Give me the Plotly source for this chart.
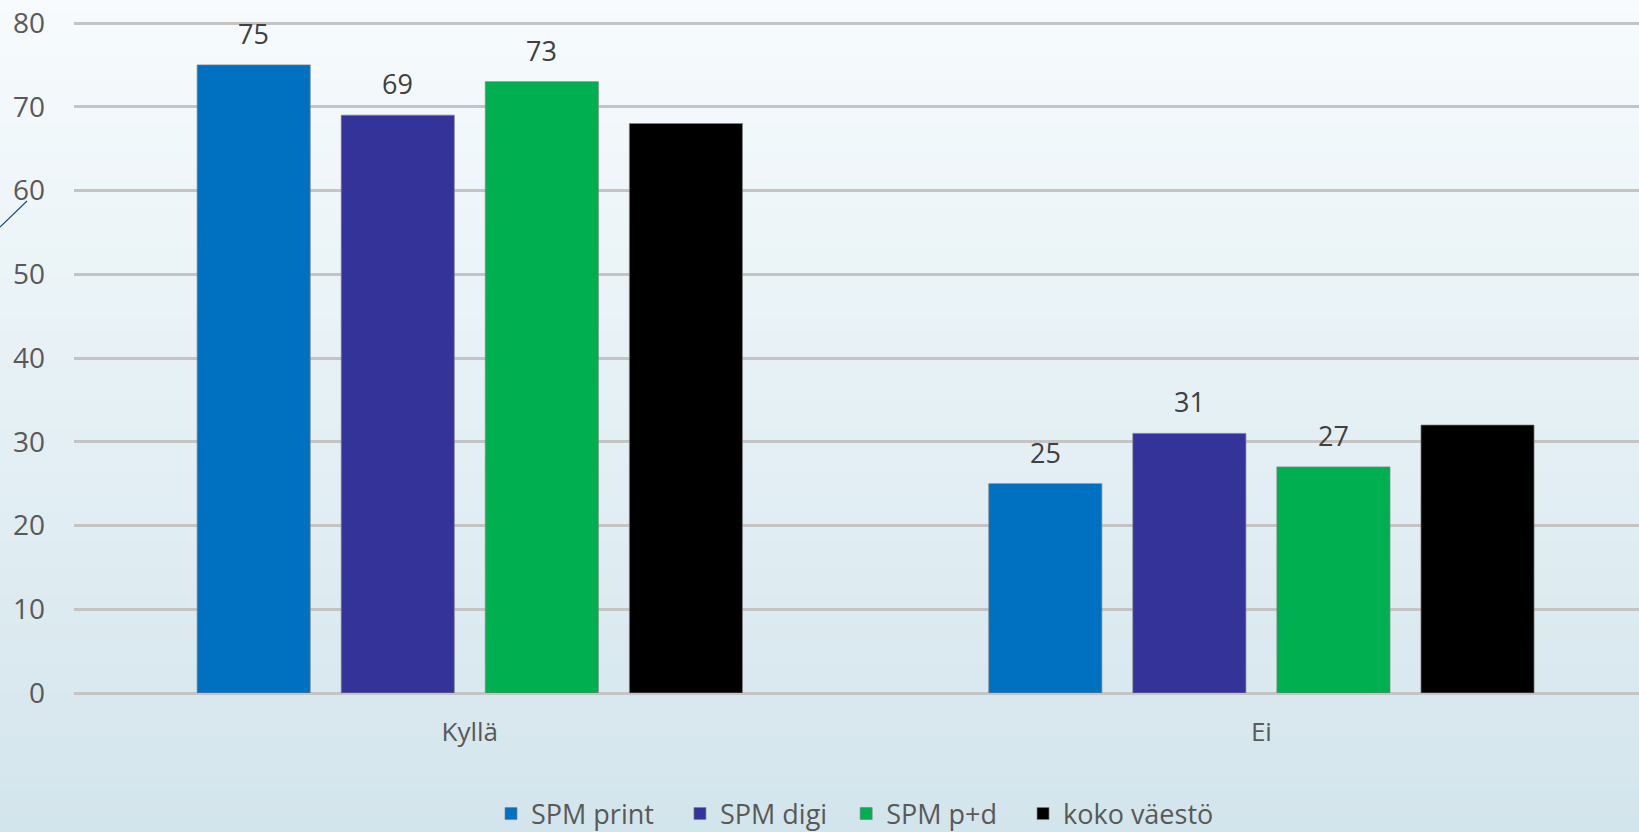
import plotly.graph_objects as go

categories = ["Kyllä", "Ei"]
series_names = ["SPM print", "SPM digi", "SPM p+d", "koko väestö"]
spm_print = [75, 25]
spm_digi = [69, 31]
spm_pd = [73, 27]
koko_vaesto = [68, 32]
show_labels = [True, True, True, False]
colors = ["#0070C0", "#333399", "#00B050", "#000000"]
y_ticks = [0, 10, 20, 30, 40, 50, 60, 70, 80]

series_values = [spm_print, spm_digi, spm_pd, koko_vaesto]

W, H = 1639, 832
ML, MR, MT, MB = 74, 0, 20, 139
Y_TOP = 80 * (H - MT - MB) / 670.0
BARGAP = 0.272
BARGROUPGAP = 0.215
LEGEND_PADS = [3, 2, 3, 0]  # non-breaking spaces after legend entries (spacing)

fig = go.Figure()
for name, vals, col, pad in zip(series_names, series_values, colors, LEGEND_PADS):
    fig.add_trace(go.Bar(
        x=categories, y=vals,
        name=name + "\u00a0" * pad,
        marker=dict(color=col, line=dict(color="rgba(130,130,130,0.7)", width=1)),
        hovertemplate="%{x}: %{y}<extra>" + name + "</extra>",
    ))

# value labels above bars (positioned from data and bar layout parameters)
annotations = []
n = len(series_values)
slot = (1 - BARGAP) / n
for i, (vals, show) in enumerate(zip(series_values, show_labels)):
    if not show:
        continue
    for j, v in enumerate(vals):
        annotations.append(dict(
            x=j + (i - (n - 1) / 2) * slot, y=v, xref="x", yref="y",
            text=str(v), showarrow=False, yanchor="bottom", yshift=11,
            font=dict(family="Open Sans", size=27, color="#404040"),
        ))

# vertical gradient background via stacked rectangles
shapes = []
top = (247, 251, 253)
bot = (211, 229, 236)
N = 60
pw = W - ML - MR
ph = H - MT - MB
y_lo = -MB / ph
y_hi = 1 + MT / ph
x_lo = -ML / pw
for k in range(N):
    t = (k + 0.5) / N
    c = tuple(round(top[m] + (bot[m] - top[m]) * t) for m in range(3))
    y1 = y_hi - (y_hi - y_lo) * k / N
    y0 = y_hi - (y_hi - y_lo) * (k + 1) / N
    if k == N - 1:
        y0 = y_lo - 0.05
    shapes.append(dict(type="rect", xref="paper", yref="paper",
                       x0=x_lo, x1=1.01, y0=y0 - 0.002, y1=y1 + 0.002,
                       fillcolor="rgb(%d,%d,%d)" % c, line=dict(width=0),
                       layer="below"))
# decorative diagonal line at left edge
shapes.append(dict(type="line", xref="paper", yref="paper",
                   x0=x_lo, y0=(H - MB - 227) / ph, x1=(27 - ML) / pw, y1=(H - MB - 201) / ph,
                   line=dict(color="#1F4E79", width=1.2), layer="above"))

fig.update_layout(
    width=W, height=H,
    margin=dict(l=ML, r=MR, t=MT, b=MB, pad=0, autoexpand=False),
    paper_bgcolor="rgb(211,229,236)",
    plot_bgcolor="rgba(0,0,0,0)",
    barmode="group",
    bargap=BARGAP, bargroupgap=BARGROUPGAP,
    font=dict(family="Open Sans", color="#595959"),
    shapes=shapes,
    annotations=annotations,
    showlegend=True,
    legend=dict(orientation="h", x=(491 - ML) / pw, xanchor="left",
                y=(H - MB - 814) / ph, yanchor="middle",
                font=dict(family="Open Sans", size=27, color="#595959"),
                bgcolor="rgba(0,0,0,0)", itemclick=False, itemdoubleclick=False),
    xaxis=dict(type="category", range=[-0.5, 1.477], showgrid=False, showline=False,
               zeroline=False, ticks="", tickfont=dict(size=26, color="#595959"),
               ticklabelstandoff=21, fixedrange=True),
    yaxis=dict(range=[0, Y_TOP], tickvals=y_ticks, showgrid=True, gridcolor="#c4c4c4", gridwidth=2.5,
               zeroline=True, zerolinecolor="#c4c4c4", zerolinewidth=2.5, showline=False,
               ticks="", tickfont=dict(size=28, color="#595959"), ticklabelstandoff=28,
               fixedrange=True),
)

fig.write_html("out.html", config={"displayModeBar": False},
               post_script="document.body.style.margin='0';document.body.style.padding='0';"
                           "document.body.style.background='rgb(211,229,236)';"
                           "document.documentElement.style.overflow='hidden';")
